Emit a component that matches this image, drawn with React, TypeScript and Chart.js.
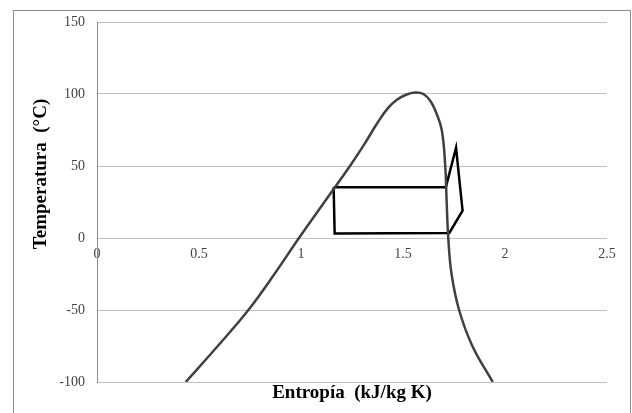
import React, { useEffect, useRef } from "react";
import { Chart, registerables } from "chart.js";

Chart.register(...registerables);

// Saturation dome (entropy kJ/kg K, temperature °C)
const domeEntropy = [0.435, 0.592, 0.742, 0.87, 0.99, 1.115, 1.24, 1.31, 1.375, 1.425, 1.47, 1.515, 1.56, 1.6, 1.635, 1.66, 1.69, 1.707, 1.714, 1.722, 1.738, 1.775, 1.84, 1.94];
const domeTemp = [-100, -75, -50, -25, 0, 25, 50, 65, 80, 90, 96, 99.5, 101, 100, 95, 88, 75, 50, 25, 0, -25, -50, -75, -100];

// Refrigeration cycle
const cycleEntropy = [1.16, 1.165, 1.727, 1.792, 1.76, 1.71, 1.16];
const cycleTemp = [35.3, 3.2, 3.5, 19, 62.7, 35.3, 35.3];

const xTicks = [0, 0.5, 1, 1.5, 2, 2.5];
const yTicks = [-100, -50, 0, 50, 100, 150];

const xTitle = "Entropía  (kJ/kg K)";
const yTitle = "Temperatura  (°C)";

const toPoints = (xs: number[], ys: number[]) => xs.map((x, i) => ({ x, y: ys[i] }));

export default function App() {
  const ref = useRef<HTMLCanvasElement | null>(null);
  useEffect(() => {
    if (!ref.current) return;
    const titlePlugin = {
      id: "axisTitles",
      afterDraw(chart: any) {
        const ctx = chart.ctx;
        const area = chart.chartArea;
        ctx.save();
        ctx.fillStyle = "#000";
        ctx.font = "bold 19px 'Liberation Serif', 'Times New Roman', serif";
        ctx.textAlign = "center";
        ctx.textBaseline = "middle";
        ctx.fillText(xTitle, (area.left + area.right) / 2, 393);
        ctx.translate(41, 174);
        ctx.rotate(-Math.PI / 2);
        ctx.fillText(yTitle, 0, 0);
        ctx.restore();
      },
    };
    const chart = new Chart(ref.current, {
      type: "scatter",
      data: {
        datasets: [
          {
            data: toPoints(domeEntropy, domeTemp),
            showLine: true,
            borderColor: "#404040",
            borderWidth: 2.5,
            pointRadius: 0,
            tension: 0.4,
          },
          {
            data: toPoints(cycleEntropy, cycleTemp),
            showLine: true,
            borderColor: "#000000",
            borderWidth: 2.5,
            pointRadius: 0,
            tension: 0,
          },
        ],
      },
      options: {
        animation: false,
        responsive: false,
        maintainAspectRatio: false,
        layout: { padding: { left: 0, right: 25, top: 22, bottom: 31 } },
        plugins: { legend: { display: false }, tooltip: { enabled: false }, title: { display: false } },
        scales: {
          x: {
            type: "linear",
            min: 0,
            max: 2.5,
            position: { y: 0 } as any,
            afterBuildTicks: (s: any) => {
              s.ticks = xTicks.map((v) => ({ value: v }));
            },
            ticks: {
              color: "#404040",
              font: { family: "'Liberation Serif', serif", size: 14 },
              padding: 8,
              maxRotation: 0,
              autoSkip: false,
              callback: (v: any) => String(Number(v)),
            },
            grid: { display: false, drawTicks: false },
            border: { display: false },
          },
          y: {
            type: "linear",
            min: -100,
            max: 150,
            afterBuildTicks: (s: any) => {
              s.ticks = yTicks.map((v) => ({ value: v }));
            },
            afterFit: (s: any) => {
              s.width = 97;
            },
            ticks: {
              color: "#404040",
              font: { family: "'Liberation Serif', serif", size: 14 },
              padding: 12,
              callback: (v: any) => String(Number(v)),
            },
            grid: { color: "#c0c0c0", lineWidth: 1, drawTicks: false },
            border: { display: true, color: "#8a8a8a", width: 1 },
          },
        },
      },
      plugins: [titlePlugin],
    });
    return () => chart.destroy();
  }, []);
  return (
    <div style={{ position: "absolute", left: 0, top: 0, width: 632, height: 413, background: "#fff", overflow: "hidden" }}>
      <div
        style={{
          position: "absolute",
          left: 13,
          top: 10,
          width: 616,
          height: 420,
          border: "1px solid #8c8c8c",
        }}
      />
      <canvas ref={ref} width={632} height={413} style={{ position: "absolute", left: 0, top: 0 }} />
    </div>
  );
}
